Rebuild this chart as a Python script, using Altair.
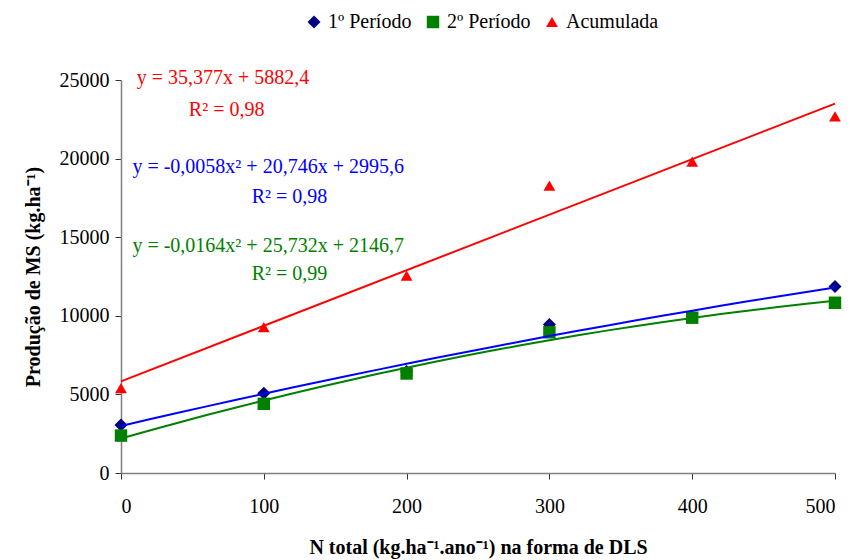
import altair as alt
import pandas as pd

x_vals = [0, 100, 200, 300, 400, 500]
p1 = [3050, 5070, 6450, 9450, 9930, 11870]
p2 = [2380, 4400, 6330, 8950, 9880, 10830]
acum = [5400, 9280, 12550, 18280, 19800, 22680]

series_names = ["1º Período", "2º Período", "Acumulada"]
marker_colors = ["#000080", "#008000", "#FF0000"]
marker_shapes = ["diamond", "square", "triangle-up"]

eq_texts = ["y = 35,377x + 5882,4", "R² = 0,98",
            "y = -0,0058x² + 20,746x + 2995,6", "R² = 0,98",
            "y = -0,0164x² + 25,732x + 2146,7", "R² = 0,99"]
eq_x = [11, 74, 8, 118, 8, 118]
eq_y = [25130, 23090, 19470, 17560, 14440, 12660]
eq_align = ["left", "center", "left", "center", "left", "center"]
eq_color = ["#FF0000", "#FF0000", "#0000FF", "#0000FF", "#008000", "#008000"]

rows = []
for name, vals in zip(series_names, [p1, p2, acum]):
    for xv, yv in zip(x_vals, vals):
        rows.append({"x": xv, "y": yv, "serie": name})
df = pd.DataFrame(rows)

ann = pd.DataFrame({"x": eq_x, "y": eq_y, "t": eq_texts, "a": eq_align, "c": eq_color})

FONT = "Liberation Serif"

xscale = alt.Scale(domain=[0, 500], nice=False)
yscale = alt.Scale(domain=[0, 25000], nice=False)

xenc = alt.X("x:Q", scale=xscale,
             axis=alt.Axis(values=x_vals, title="N total (kg.ha⁻¹.ano⁻¹) na forma de DLS",
                           format="d", grid=False, labelPadding=17, titlePadding=21,
                           labelFont=FONT, titleFont=FONT))
yenc = alt.Y("y:Q", scale=yscale,
             axis=alt.Axis(values=[0, 5000, 10000, 15000, 20000, 25000], format="d",
                           title="Produção de MS (kg.ha⁻¹)", grid=False,
                           labelPadding=6, titlePadding=16,
                           labelFont=FONT, titleFont=FONT))

points = alt.Chart(df).mark_point(filled=True, opacity=1).encode(
    x=xenc, y=yenc,
    color=alt.Color("serie:N", scale=alt.Scale(domain=series_names, range=marker_colors),
                    legend=alt.Legend(title=None, orient="none", direction="horizontal",
                                      legendX=183, legendY=-68, labelFont=FONT)),
    shape=alt.Shape("serie:N", scale=alt.Scale(domain=series_names, range=marker_shapes)),
    size=alt.Size("serie:N", scale=alt.Scale(domain=series_names, range=[170, 140, 400]),
                  legend=None),
)

def quad_line(name, color):
    return alt.Chart(df).transform_filter(alt.datum.serie == name).transform_regression(
        "x", "y", method="poly", order=2
    ).mark_line(color=color, strokeWidth=2).encode(x="x:Q", y="y:Q")

line_red = alt.Chart(df).transform_filter(alt.datum.serie == "Acumulada").transform_regression(
    "x", "y", method="linear"
).mark_line(color="#FF0000", strokeWidth=2).encode(x="x:Q", y="y:Q")

lines = [quad_line("1º Período", "#0000FF"), quad_line("2º Período", "#008000"), line_red]

texts = []
for al in ["left", "center"]:
    texts.append(alt.Chart(ann).transform_filter(alt.datum.a == al).mark_text(
        align=al, baseline="middle", font=FONT, fontSize=20
    ).encode(x="x:Q", y="y:Q", text="t:N", color=alt.Color("c:N", scale=None)))

chart = alt.layer(points, *lines, *texts).properties(
    width=714, height=393,
    autosize=alt.AutoSizeParams(type="none"),
    padding={"left": 121, "top": 80, "right": 17, "bottom": 87},
).configure(font=FONT).configure_view(stroke=None).configure_axis(
    labelFont=FONT, titleFont=FONT, labelFontSize=20, titleFontSize=20,
    labelColor="black", titleColor="black", titleFontWeight="bold",
    domainColor="#808080", domainWidth=1.5, tickColor="#333333", tickSize=6,
).configure_legend(
    labelFont=FONT, labelFontSize=20, labelColor="black", symbolSize=170,
    columnPadding=11, labelOffset=4, symbolStrokeWidth=0, padding=0,
)

chart.save("out.html", embed_options={"renderer": "svg", "actions": False})
